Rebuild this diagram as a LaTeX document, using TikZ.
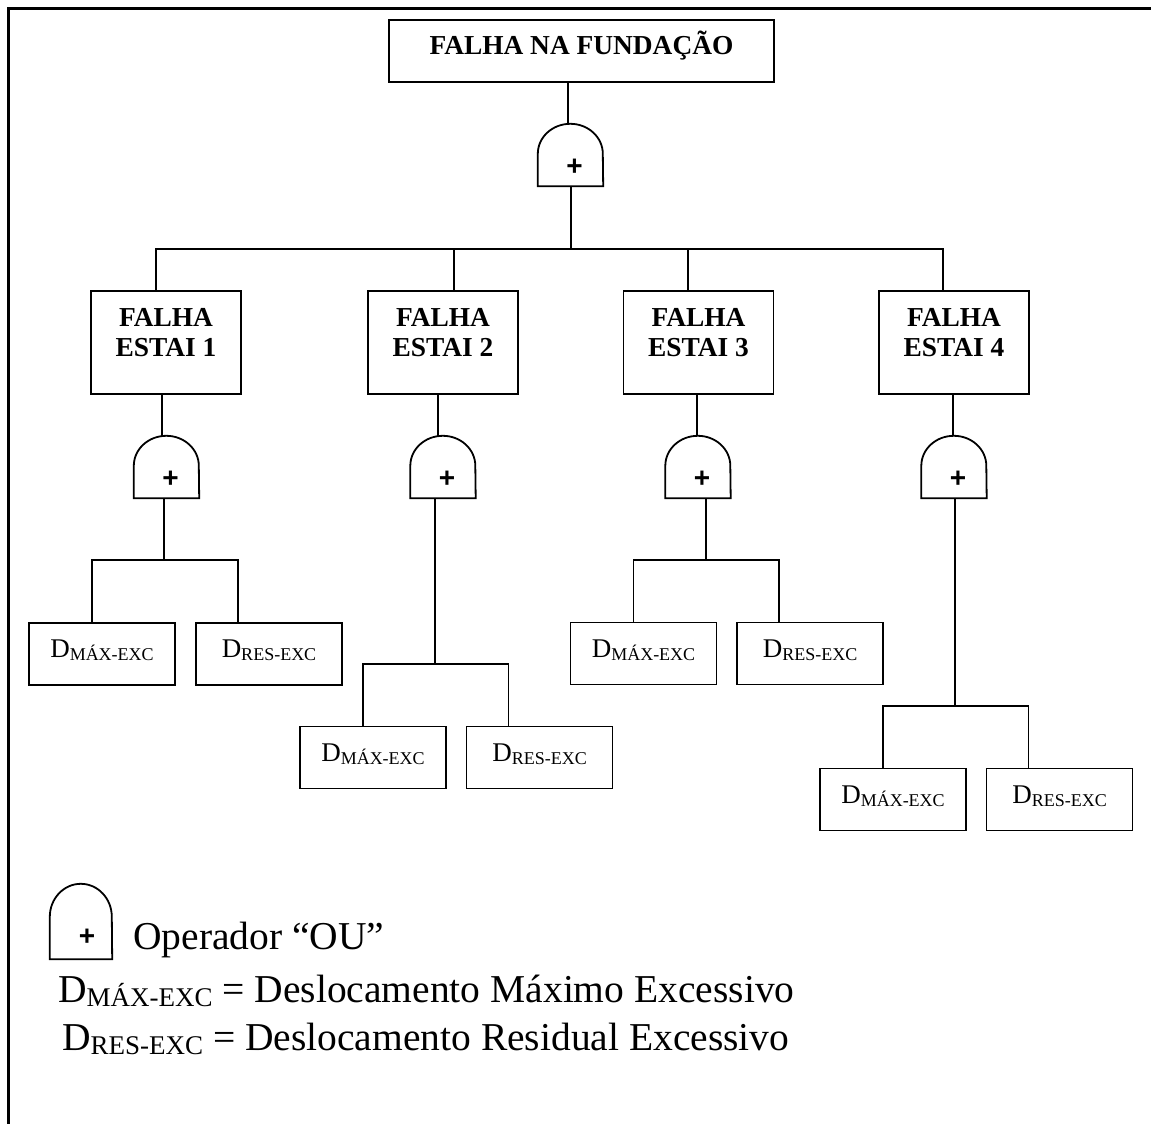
\documentclass[tikz,border=0pt]{standalone}
\usepackage{fontspec}
\setmainfont{Liberation Serif}
\newfontfamily\plusfont{Liberation Sans}
% "D" with a lowered small-caps qualifier, e.g. D_{MAX-EXC}
\newcommand\dexc[3]{D\raisebox{-#3}{\fontsize{#2}{#2}\selectfont #1}}
% outline of an OR gate drawn over a named node: flat base, straight sides, arched top
\newcommand\gateoutline[3]{%
  \draw[conn] (#1.south west) -- ([yshift=-#3]#1.north west)
    arc[start angle=180,end angle=0,x radius=#2,y radius=#3]
    -- (#1.south east) -- cycle;}
\begin{document}
\begin{tikzpicture}[x=1pt,y=-1pt,
  conn/.style={line width=1.8pt},
  titlebox/.style={draw,line width=1.8pt,inner sep=0pt,minimum width=385pt,minimum height=62pt,
    font=\fontsize{27.4}{30}\selectfont\bfseries,text height=14pt,text depth=6pt},
  evbox/.style={draw,line width=1.8pt,inner sep=0pt,minimum width=150pt,minimum height=103pt},
  evtext/.style={inner sep=0pt,align=center,font=\fontsize{27.4}{30}\selectfont\bfseries},
  gatebox/.style={inner sep=0pt,minimum width=65pt,minimum height=62pt},
  plus/.style={inner sep=0pt,font=\plusfont\bfseries\fontsize{28}{28}\selectfont},
  leaf/.style={draw,line width=1.8pt,inner sep=0pt,minimum width=146pt,minimum height=62pt,
    font=\fontsize{27}{30}\selectfont,text height=12pt,text depth=5pt},
  legend/.style={inner sep=0pt,anchor=base west,font=\fontsize{39.5}{44}\selectfont}]
\useasboundingbox (0,0) rectangle (1151,1124);

% frame (top and left edges)
\draw[line width=2.5pt] (1151,8.5) -- (8.5,8.5) -- (8.5,1124);

% top event and its gate
\node[titlebox] (top) at (581.5,51) {FALHA NA FUNDAÇÃO};
\node[gatebox] (g0) at (570.5,155) {};
\gateoutline{g0}{32.5pt}{30pt}
\node[plus] (g0p) at ([xshift=4pt,yshift=-12.5pt]g0.center) {+};
\coordinate (tb) at (571,249);
\draw[conn] ([xshift=-13.5pt]top.south) -- ([xshift=-13.5pt]top.south |- g0.north);
\draw[conn] (g0.south -| tb) -- (tb);

% intermediate events
\node[evbox] (e1) at (166,342.5) {};
\node[evbox] (e2) at (443,342.5) {};
\node[evbox] (e3) at (698.5,342.5) {};
\node[evbox] (e4) at (954,342.5) {};
\node[evtext] (e1t) at ([yshift=10pt]e1.center) {FALHA\\ESTAI 1};
\node[evtext] (e2t) at ([yshift=10pt]e2.center) {FALHA\\ESTAI 2};
\node[evtext] (e3t) at ([yshift=10pt]e3.center) {FALHA\\ESTAI 3};
\node[evtext] (e4t) at ([yshift=10pt]e4.center) {FALHA\\ESTAI 4};
\draw[conn] ([xshift=-10pt]e1.north) |- (tb) -| ([xshift=-11pt]e4.north);
\draw[conn] ([xshift=11pt]e2.north) -- ([xshift=11pt]e2.north |- tb);
\draw[conn] ([xshift=-10.5pt]e3.north) -- ([xshift=-10.5pt]e3.north |- tb);

% gates under each intermediate event
\node[gatebox] (g1) at (166.5,467) {};
\node[gatebox] (g2) at (443,467) {};
\node[gatebox] (g3) at (698,467) {};
\node[gatebox] (g4) at (954,467) {};
\gateoutline{g1}{32.5pt}{30pt}
\gateoutline{g2}{32.5pt}{30pt}
\gateoutline{g3}{32.5pt}{30pt}
\gateoutline{g4}{32.5pt}{30pt}
\node[plus] (g1p) at ([xshift=4pt,yshift=-12.5pt]g1.center) {+};
\node[plus] (g2p) at ([xshift=4pt,yshift=-12.5pt]g2.center) {+};
\node[plus] (g3p) at ([xshift=4pt,yshift=-12.5pt]g3.center) {+};
\node[plus] (g4p) at ([xshift=4pt,yshift=-12.5pt]g4.center) {+};
\draw[conn] ([xshift=-4pt]e1.south) -- ([xshift=-4pt]e1.south |- g1.north);
\draw[conn] ([xshift=-5pt]e2.south) -- ([xshift=-5pt]e2.south |- g2.north);
\draw[conn] ([xshift=-1.5pt]e3.south) -- ([xshift=-1.5pt]e3.south |- g3.north);
\draw[conn] ([xshift=-1pt]e4.south) -- ([xshift=-1pt]e4.south |- g4.north);

% basic events
\node[leaf] (l1a) at (102,654) {\dexc{MÁX-EXC}{18pt}{3pt}};
\node[leaf] (l1b) at (269,654) {\dexc{RES-EXC}{18pt}{3pt}};
\node[leaf] (l2a) at (373,757.5) {\dexc{MÁX-EXC}{18pt}{3pt}};
\node[leaf] (l2b) at (539.5,757.5) {\dexc{RES-EXC}{18pt}{3pt}};
\node[leaf] (l3a) at (643.5,653.5) {\dexc{MÁX-EXC}{18pt}{3pt}};
\node[leaf] (l3b) at (810,653.5) {\dexc{RES-EXC}{18pt}{3pt}};
\node[leaf] (l4a) at (893,799.5) {\dexc{MÁX-EXC}{18pt}{3pt}};
\node[leaf] (l4b) at (1059.5,799.5) {\dexc{RES-EXC}{18pt}{3pt}};

\coordinate (b1) at (164,560);
\coordinate (b2) at (435,664);
\coordinate (b3) at (706,560);
\coordinate (b4) at (955,706);
\draw[conn] (g1.south -| b1) -- (b1);
\draw[conn] (g2.south -| b2) -- (b2);
\draw[conn] (g3.south -| b3) -- (b3);
\draw[conn] (g4.south -| b4) -- (b4);
\draw[conn] ([xshift=-10pt]l1a.north) |- (b1) -| ([xshift=-31pt]l1b.north);
\draw[conn] ([xshift=-10pt]l2a.north) |- (b2) -| ([xshift=-31pt]l2b.north);
\draw[conn] ([xshift=-10pt]l3a.north) |- (b3) -| ([xshift=-31pt]l3b.north);
\draw[conn] ([xshift=-10pt]l4a.north) |- (b4) -| ([xshift=-31pt]l4b.north);

% key
\node[gatebox,minimum width=62pt,minimum height=75pt] (gl) at (81,921.5) {};
\gateoutline{gl}{31pt}{33pt}
\node[plus] (glp) at ([xshift=6pt,yshift=-15.5pt]gl.center) {+};
\node[legend] (k1) at (133,949) {Operador “OU”};
\node[legend] (k2) at (58,1002) {\dexc{MÁX-EXC}{27pt}{4pt} = Deslocamento Máximo Excessivo};
\node[legend] (k3) at (62,1050) {\dexc{RES-EXC}{27pt}{4pt} = Deslocamento Residual Excessivo};
\end{tikzpicture}
\end{document}
